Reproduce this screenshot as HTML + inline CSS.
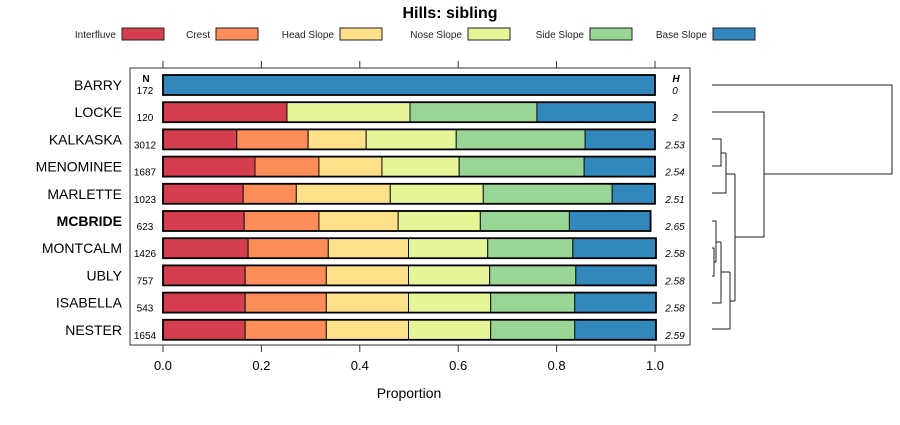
<!DOCTYPE html>
<html><head><meta charset="utf-8">
<style>
html,body{margin:0;padding:0;background:#fff;}
svg text{font-family:"Liberation Sans",sans-serif;}
</style></head>
<body>
<svg id="chart" width="900" height="420" viewBox="0 0 900 420" xmlns="http://www.w3.org/2000/svg">
<text x="450" y="18" text-anchor="middle" font-size="16" font-weight="bold">Hills: sibling</text>
<g id="legend"></g>
<rect x="130" y="68" width="560" height="277" fill="none" stroke="#333" stroke-width="1"/>
<g id="axes"></g>
<g id="bars"></g>
<g id="labels"></g>
<g id="dendro" fill="none" stroke="#222" stroke-width="1"></g>
<text x="409" y="398" text-anchor="middle" font-size="14">Proportion</text>
<text x="146" y="82" text-anchor="middle" font-size="10" font-weight="bold">N</text>
<text x="676" y="82" text-anchor="middle" font-size="10" font-weight="bold" font-style="italic">H</text>
</svg>
<script>
const categories=["BARRY","LOCKE","KALKASKA","MENOMINEE","MARLETTE","MCBRIDE","MONTCALM","UBLY","ISABELLA","NESTER"];
const nValues=[172,120,3012,1687,1023,623,1426,757,543,1654];
const hValues=["0","2","2.53","2.54","2.51","2.65","2.58","2.58","2.58","2.59"];
const seriesNames=["Interfluve","Crest","Head Slope","Nose Slope","Side Slope","Base Slope"];
const interfluve=[0,0.252,0.150,0.187,0.163,0.165,0.173,0.167,0.167,0.167];
const crest=[0,0,0.145,0.130,0.108,0.152,0.163,0.165,0.165,0.165];
const headSlope=[0,0,0.118,0.128,0.191,0.161,0.163,0.167,0.167,0.167];
const noseSlope=[0,0.250,0.183,0.157,0.189,0.167,0.161,0.165,0.167,0.167];
const sideSlope=[0,0.258,0.262,0.254,0.262,0.181,0.173,0.175,0.171,0.171];
const baseSlope=[1,0.240,0.142,0.144,0.087,0.165,0.169,0.163,0.165,0.165];
const xTicks=[0,0.2,0.4,0.6,0.8,1.0];
const NS="http://www.w3.org/2000/svg";
const colors=["#d53e4f","#fc8d59","#fee08b","#e6f598","#99d594","#3288bd"];
const series=[interfluve,crest,headSlope,noseSlope,sideSlope,baseSlope];
const x=v=>163+v*492;
const y=i=>85+i*27.2;
function mk(tag,attrs,parent,text){const e=document.createElementNS(NS,tag);for(const k in attrs)e.setAttribute(k,attrs[k]);if(text!==undefined)e.textContent=text;parent.appendChild(e);return e;}
// legend
const lg=document.getElementById('legend');
const boxX=[122,216,340,468,590,713];
seriesNames.forEach((n,k)=>{
  const t=mk('text',{x:boxX[k]-6,y:38,'text-anchor':'end','font-size':10,fill:'#222'},lg,n);
  
  
  const r=mk('rect',{x:boxX[k],y:28,width:42,height:12,fill:colors[k],stroke:'#222'},lg);
  
  
});
// axes
const ax=document.getElementById('axes');
xTicks.forEach(v=>{
  const t1=mk('line',{x1:x(v),x2:x(v),y1:61,y2:68,stroke:'#333'},ax);
  
  
  const t2=mk('line',{x1:x(v),x2:x(v),y1:345,y2:352,stroke:'#333'},ax);
  
  
  const l=mk('text',{x:x(v),y:370,'text-anchor':'middle','font-size':13},ax,v.toFixed(1));
  
  
});
// bars
const bg=document.getElementById('bars');
const lb=document.getElementById('labels');
categories.forEach((c,i)=>{
  let acc=0;
  series.forEach((s,k)=>{
    const v=s[i];
    if(v>0){
      const r=mk('rect',{x:x(acc),y:y(i)-10,width:v*492,height:20,fill:colors[k],stroke:'#111','stroke-width':1},bg);
      
      
    }
    acc+=v;
  });
  const o=mk('rect',{x:x(0),y:y(i)-10,width:acc*492,height:20,fill:'none',stroke:'#000','stroke-width':1.8},bg);
  
  
  const nm=mk('text',{x:122,y:y(i)+5,'text-anchor':'end','font-size':14,'font-weight':c==='MCBRIDE'?'bold':'normal'},lb,c);
  
  
  const nt=mk('text',{x:145,y:y(i)+9,'text-anchor':'middle','font-size':10},lb,String(nValues[i]));
  
  
  const ht=mk('text',{x:675,y:y(i)+9,'text-anchor':'middle','font-size':10,'font-style':'italic'},lb,hValues[i]);
  
  
});
// dendrogram
const dg=document.getElementById('dendro');
const paths=[
 "M712,85H892V174H764",
 "M712,112H764V237H735",
 "M712,139H721V166H712","M721,153H726","M712,193H726V153","M726,174H735",
 "M735,174V301",
 "M712,248H714V276H712","M714,262H716","M712,221H716V262","M716,242H721","M712,303H721V242",
 "M721,272H730","M712,329H730V272","M730,301H735"
];
paths.forEach(d=>{
  const p=mk('path',{d:d},dg);
  
  
});
</script>
</body></html>
